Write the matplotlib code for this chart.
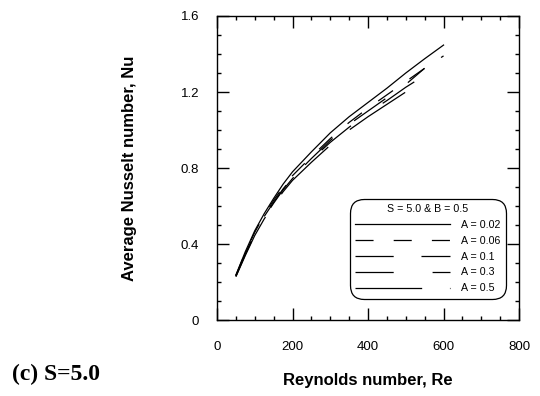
import matplotlib
matplotlib.use('Agg')
import matplotlib.pyplot as plt
from matplotlib.ticker import MultipleLocator

plt.rcParams['font.family'] = ['Liberation Sans', 'DejaVu Sans']
plt.rcParams['lines.scale_dashes'] = False

# values (Re, average Nu)
re_a = [50, 75, 100, 125, 150, 175, 200, 250, 300, 350, 400, 450, 500, 550, 600]
nu_002 = [0.237, 0.36, 0.47, 0.56, 0.64, 0.715, 0.78, 0.885, 0.985, 1.07, 1.145, 1.22, 1.30, 1.375, 1.447]
nu_006 = [0.235, 0.355, 0.462, 0.552, 0.63, 0.70, 0.76, 0.86, 0.955, 1.04, 1.115, 1.185, 1.255, 1.325, 1.39]

re_b = [50, 75, 100, 125, 150, 175, 200, 250, 300, 350, 400, 450, 500, 550]
nu_01 = [0.232, 0.35, 0.455, 0.545, 0.62, 0.69, 0.75, 0.85, 0.945, 1.03, 1.10, 1.17, 1.24, 1.325]
nu_05 = [0.228, 0.34, 0.445, 0.532, 0.605, 0.675, 0.735, 0.83, 0.92, 1.0, 1.07, 1.135, 1.20, 1.263]

re_c = [50, 75, 100, 125, 150, 175, 200, 250, 300, 350, 400, 450, 500, 540]
nu_03 = [0.23, 0.345, 0.45, 0.54, 0.615, 0.685, 0.745, 0.845, 0.935, 1.015, 1.09, 1.155, 1.225, 1.275]

labels = ['A = 0.02', 'A = 0.06', 'A = 0.1', 'A = 0.3', 'A = 0.5']

fig = plt.figure(figsize=(5.4, 3.96), dpi=100)
ax = fig.add_axes([0.4019, 0.1919, 0.5593, 0.7677])

ax.plot(re_a, nu_002, 'k-', lw=0.9, label=labels[0])
ax.plot(re_a, nu_006, color='k', lw=0.9, ls=(0, (13, 14.5)), label=labels[1])
ax.plot(re_b, nu_01, color='k', lw=0.9, ls=(0, (27.5, 20)), label=labels[2])
ax.plot(re_c, nu_03, color='k', lw=0.9, ls=(0, (27.5, 28)), label=labels[3])
ax.plot(re_b, nu_05, color='k', lw=0.9, ls=(0, (48, 20)), label=labels[4])

ax.set_xlim(0, 800)
ax.set_ylim(0, 1.6)
ax.xaxis.set_major_locator(MultipleLocator(200))
ax.xaxis.set_minor_locator(MultipleLocator(50))
ax.yaxis.set_major_locator(MultipleLocator(0.4))
ax.yaxis.set_minor_locator(MultipleLocator(0.1))
ax.set_yticks([0, 0.4, 0.8, 1.2, 1.6])
ax.set_yticklabels(['0', '0.4', '0.8', '1.2', '1.6'])

ax.tick_params(which='both', direction='in', top=True, right=True, width=1, labelsize=9.5)
ax.tick_params(which='major', length=8.5)
ax.tick_params(which='minor', length=3)
ax.tick_params(axis='x', pad=15)
ax.tick_params(axis='y', pad=13)
for s in ax.spines.values():
    s.set_linewidth(1.0)

ax.set_xlabel('Reynolds number, Re', fontsize=12, fontweight='bold')
ax.set_ylabel('Average Nusselt number, Nu', fontsize=12, fontweight='bold')
ax.xaxis.set_label_coords(0.5, -0.174)
ax.yaxis.set_label_coords(-0.265, 0.5)

leg = ax.legend(title='S = 5.0 & B = 0.5', loc='lower left', bbox_to_anchor=(0.44, 0.07),
                fontsize=7.7, title_fontsize=7.7, handlelength=8.9, handletextpad=1.0,
                labelspacing=0.55, borderpad=0.5, borderaxespad=0, frameon=True,
                fancybox=True, edgecolor='k', framealpha=1)
leg.get_frame().set_linewidth(0.9)
leg.get_frame().set_boxstyle('round,pad=0,rounding_size=1.3')

fig.text(0.022, 0.04, '(c) S=5.0', fontsize=17, fontweight='bold', family=['Liberation Serif'])

fig.savefig('out.png', dpi=100)
